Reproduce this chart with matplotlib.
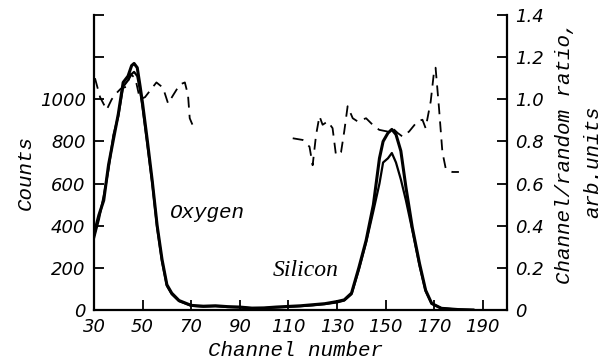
import matplotlib
matplotlib.use("Agg")
import matplotlib.pyplot as plt

# RBS spectrum (counts) for two orientations, channels 30..186
channel = [30, 32, 34, 36, 38, 40, 42, 44, 45.5, 46.5, 47.8, 49, 50, 52, 54, 56, 58, 60, 62, 65, 70,
           75, 80, 85, 90, 95, 100, 105, 110, 115, 120, 125, 130, 133,
           136, 139, 142, 145, 147.5, 149, 151, 152.6, 154.3, 156.3, 158.4, 161, 164, 166.5, 169, 173, 180, 186]
counts_outer = [360, 450, 520, 690, 810, 930, 1080, 1110, 1160, 1170, 1150, 1060, 980, 800, 610, 400, 240, 120, 80, 45, 22,
                18, 20, 16, 14, 9, 10, 14, 17, 20, 25, 30, 40, 48,
                80, 200, 330, 500, 720, 800, 840, 857, 833, 755, 582, 393, 220, 94, 31, 8, 2, 0]
counts_inner = [340, 430, 540, 670, 830, 920, 1060, 1090, 1120, 1130, 1110, 1040, 960, 780, 600, 390, 230, 115, 75, 42, 20,
                16, 18, 14, 12, 8, 9, 12, 15, 18, 22, 28, 36, 45,
                75, 190, 320, 470, 600, 700, 720, 745, 700, 620, 520, 380, 210, 90, 30, 8, 2, 0]

# Channel/random ratio, oxygen and silicon windows
ratio_o_channel = [30.4, 32.5, 35.2, 37.3, 39.3, 41, 43.4, 45, 47, 48.9, 51, 53, 55.7, 58.4, 60.5,
                   62.6, 65.3, 67.4, 68.7, 69.4, 70.5]
ratio_o = [1.10, 1.01, 0.95, 1.00, 1.03, 1.05, 1.06, 1.12, 1.10, 1.00, 1.01, 1.04, 1.08, 1.055, 0.98,
           1.02, 1.07, 1.08, 1.02, 0.91, 0.88]
ratio_si_channel = [111.8, 115.9, 118.7, 120, 121.4, 122.8, 124.1, 126.2, 128.2, 129.6, 131.7, 133, 134.4,
                    136.5, 138.5, 142, 144.7, 147.4, 150.8, 152.9, 155, 157, 159.7, 163.1, 165.2, 166.5,
                    168.6, 170, 170.6, 172, 173.4, 174.8, 177.5, 180.2]
ratio_si = [0.815, 0.807, 0.775, 0.687, 0.83, 0.92, 0.879, 0.895, 0.863, 0.735, 0.75, 0.847, 0.967,
            0.91, 0.895, 0.91, 0.879, 0.855, 0.847, 0.863, 0.84, 0.823, 0.847, 0.895, 0.903, 0.863,
            0.99, 1.135, 1.15, 0.96, 0.75, 0.67, 0.655, 0.655]

x_ticks = [30, 50, 70, 90, 110, 130, 150, 170, 190]
count_ticks = [0, 200, 400, 600, 800, 1000, 1200, 1400]
count_labels = ["0", "200", "400", "600", "800", "1000", "", ""]
ratio_ticks = [0, 0.2, 0.4, 0.6, 0.8, 1.0, 1.2, 1.4]
ratio_labels = ["0", "0.2", "0.4", "0.6", "0.8", "1.0", "1.2", "1.4"]

W, H = 613, 364
fig = plt.figure(figsize=(W / 100, H / 100), dpi=100)
ax = fig.add_axes([94 / W, 1 - 310 / H, (507 - 94) / W, (310 - 15) / H])
ax2 = ax.twinx()

num_font = dict(family=["DejaVu Sans"], style="italic", size=13)
lab_font = dict(family=["Liberation Mono"], style="italic", size=15)

ax.plot(channel, counts_outer, color="black", lw=2.2)
ax.plot(channel, counts_inner, color="black", lw=1.6)
ax2.plot(ratio_o_channel, ratio_o, color="black", lw=1.3, dashes=(6, 4))
ax2.plot(ratio_si_channel, ratio_si, color="black", lw=1.3, dashes=(6, 4))

ax.set_xlim(30, 200)
ax.set_ylim(0, 1400)
ax2.set_ylim(0, 1.4)

ax.set_xticks(x_ticks)
ax.set_xticklabels([str(t) for t in x_ticks], **num_font)
ax.set_yticks(count_ticks)
ax.set_yticklabels(count_labels, **num_font)
ax2.set_yticks(ratio_ticks)
ax2.set_yticklabels(ratio_labels, **num_font)

for a in (ax, ax2):
    a.spines["top"].set_visible(False)
    for s in a.spines.values():
        s.set_linewidth(1.6)
ax.spines["right"].set_visible(False)
ax2.spines["left"].set_visible(False)
ax2.spines["bottom"].set_visible(False)

ax.tick_params(axis="both", direction="in", length=7, width=1.3, pad=6)
ax2.tick_params(axis="y", direction="in", length=7, width=1.3, pad=6)

def px(x, y):
    return x / W, 1 - y / H

fig.text(*px(25, 173), "Counts", rotation=90, ha="center", va="center", **lab_font)
fig.text(*px(295, 351), "Channel number", ha="center", va="center", **lab_font)
fig.text(*px(565, 153), "Channel/random ratio,", rotation=90, ha="center", va="center", **lab_font)
fig.text(*px(593, 162), "arb.units", rotation=90, ha="center", va="center", **lab_font)
fig.text(*px(207, 213), "Oxygen", ha="center", va="center", **lab_font)
fig.text(*px(306, 270), "Silicon", ha="center", va="center",
         family=["Liberation Serif"], style="italic", size=17)

fig.savefig("out.png", dpi=100)
